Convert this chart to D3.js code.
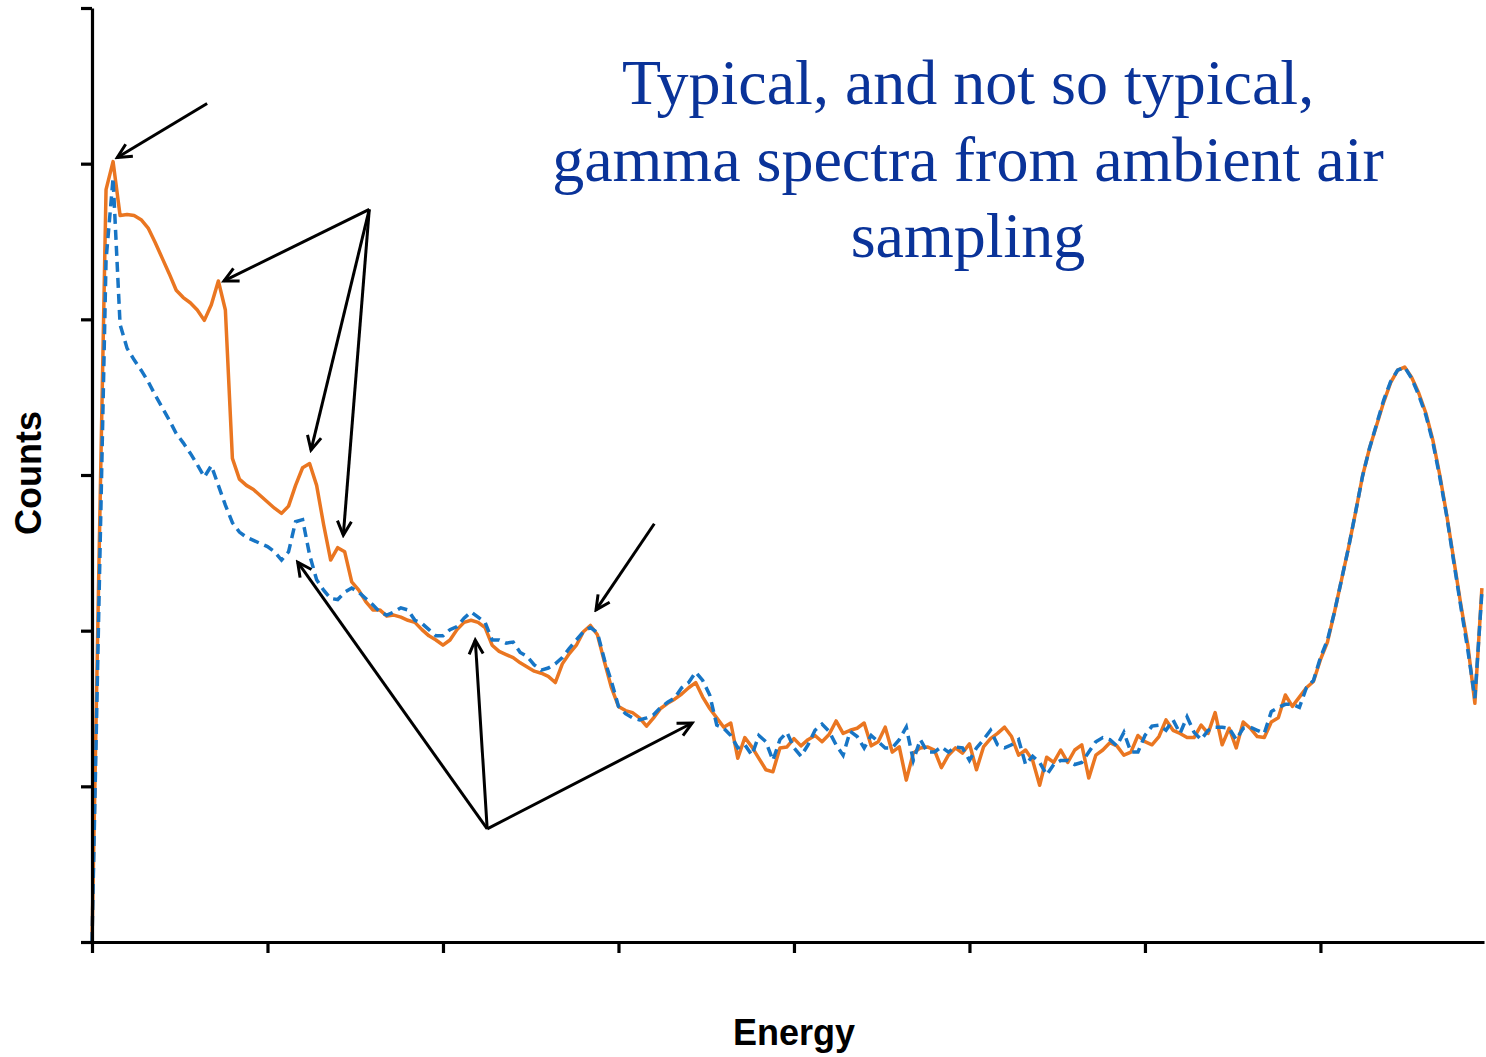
<!DOCTYPE html>
<html>
<head>
<meta charset="utf-8">
<script src="https://cdn.jsdelivr.net/npm/d3@7"></script>
<style>
  body { margin: 0; background: #fff; }
</style>
</head>
<body>
<svg id="drawing_region"></svg>
<script>
// spectra sampled every 10 channels, starting at channel 0
const channelStep = 10;

// "not so typical" sample (solid orange)
const orangeCounts = [
  0, 368, 725, 752, 700, 701, 700, 696, 688, 674,
  659, 644, 628, 621, 616, 609, 599, 614, 637, 609,
  466, 446, 440, 436, 430, 424, 418, 413, 420, 440,
  457, 461, 440, 402, 368, 380, 376, 347, 339, 328,
  320, 320, 314, 315, 313, 310, 308, 301, 295, 291,
  286, 291, 301, 308, 310, 308, 303, 286, 280, 277,
  274, 269, 265, 261, 259, 256, 250, 268, 278, 286,
  299, 305, 296, 270, 245, 227, 223, 221, 216, 208,
  216, 225, 230, 234, 239, 245, 250, 236, 225, 216,
  207, 211, 177, 197, 188, 177, 166, 164, 187, 188,
  196, 189, 195, 199, 193, 200, 213, 201, 204, 206,
  211, 189, 193, 207, 183, 188, 156, 182, 187, 188,
  185, 168, 180, 187, 182, 191, 166, 188, 196, 201,
  207, 198, 180, 185, 175, 151, 178, 173, 185, 173,
  185, 190, 158, 180, 185, 192, 189, 180, 183, 199,
  193, 190, 198, 214, 204, 201, 197, 197, 209, 201,
  221, 190, 206, 187, 212, 206, 198, 197, 212, 216,
  238, 227, 236, 245, 251, 272, 289, 318, 349, 380,
  414, 449, 476, 498, 520, 539, 551, 554, 544, 529,
  510, 484, 450, 411, 368, 325, 286, 230, 341
];

// typical sample (dashed blue)
const blueCounts = [
  0, 330, 657, 736, 595, 572, 561, 551, 540, 527,
  515, 503, 490, 481, 471, 460, 448, 459, 440, 421,
  404, 395, 390, 387, 384, 381, 376, 368, 376, 405,
  407, 373, 349, 339, 331, 330, 337, 341, 337, 331,
  325, 318, 315, 318, 322, 320, 310, 307, 301, 295,
  295, 301, 304, 312, 318, 313, 308, 291, 291, 288,
  289, 279, 275, 267, 262, 264, 268, 274, 283, 291,
  299, 303, 298, 272, 251, 227, 220, 216, 214, 216,
  219, 226, 231, 235, 245, 250, 260, 252, 238, 209,
  206, 199, 187, 190, 180, 199, 193, 175, 195, 202,
  187, 179, 190, 204, 210, 203, 190, 180, 203, 198,
  187, 199, 193, 187, 187, 195, 207, 175, 195, 183,
  183, 188, 183, 188, 187, 175, 187, 195, 204, 190,
  187, 190, 195, 171, 179, 173, 161, 171, 175, 175,
  171, 173, 183, 193, 197, 195, 189, 202, 183, 183,
  199, 208, 209, 204, 214, 201, 217, 202, 195, 204,
  207, 207, 206, 195, 206, 207, 204, 201, 222, 226,
  229, 229, 226, 245, 252, 274, 291, 318, 349, 380,
  414, 449, 476, 499, 522, 540, 551, 554, 543, 527,
  508, 482, 448, 410, 366, 323, 281, 235, 337
];

const xTicks = [0, 250, 500, 750, 1000, 1250, 1500, 1750];
const yTicks = [0, 150, 300, 450, 600, 750, 900];

const titleLines = [
  "Typical, and not so typical,",
  "gamma spectra from ambient air",
  "sampling"
];

// annotation arrows: [channel, counts] of tail and head
const arrowTails = [
  [164, 808], [395, 706], [395, 706], [395, 706],
  [801, 403], [563, 109], [563, 109], [563, 109]
];
const arrowHeads = [
  [36, 756], [188, 637], [312, 474], [358, 392],
  [718, 320], [293, 366], [546, 291], [855, 211]
];

const config = {
  parent: '#drawing_region',
  width: 1486,
  height: 1057,
  margin: {top: 8, left: 92, right: 2, bottom: 115},
  label: {x: 'Energy', y: 'Counts'}
};

class SpectrumChart {
  constructor(config) {
    this.config = config;
    this.init();
  }

  init() {
    let self = this;
    const m = self.config.margin;

    self.svg = d3.select(self.config.parent)
      .attr('width', self.config.width)
      .attr('height', self.config.height);

    self.inner_width = self.config.width - m.left - m.right;
    self.inner_height = self.config.height - m.top - m.bottom;

    self.chart = self.svg.append('g')
      .attr('transform', `translate(${m.left}, ${m.top})`);

    self.xscale = d3.scaleLinear()
      .domain([0, 1983])
      .range([0, self.inner_width]);

    self.yscale = d3.scaleLinear()
      .domain([0, 900])
      .range([self.inner_height, 0]);

    self.xaxis = d3.axisBottom(self.xscale)
      .tickValues(xTicks)
      .tickSize(11)
      .tickSizeOuter(0)
      .tickFormat('');

    self.yaxis = d3.axisLeft(self.yscale)
      .tickValues(yTicks)
      .tickSize(11)
      .tickSizeOuter(0)
      .tickFormat('');
  }

  render() {
    let self = this;

    const toPoints = arr => arr.map((c, i) => [i * channelStep, c]);
    const line = d3.line()
      .x(d => self.xscale(d[0]))
      .y(d => self.yscale(d[1]));

    self.chart.append('path')
      .datum(toPoints(orangeCounts))
      .attr('d', line)
      .attr('fill', 'none')
      .attr('stroke', '#ea7621')
      .attr('stroke-width', 3.5)
      .attr('stroke-linejoin', 'round');

    self.chart.append('path')
      .datum(toPoints(blueCounts))
      .attr('d', line)
      .attr('fill', 'none')
      .attr('stroke', '#1775c5')
      .attr('stroke-width', 3.5)
      .attr('stroke-dasharray', '10,6');

    const axisStyle = g => {
      g.select('.domain').attr('stroke', '#000').attr('stroke-width', 3.2);
      g.selectAll('.tick line').attr('stroke', '#000').attr('stroke-width', 3.2);
    };

    self.chart.append('g')
      .attr('transform', `translate(0, ${self.inner_height})`)
      .call(self.xaxis)
      .call(axisStyle);

    self.chart.append('g')
      .call(self.yaxis)
      .call(axisStyle);

    // arrow heads
    self.svg.append('defs').append('marker')
      .attr('id', 'head')
      .attr('viewBox', '0 0 20 20')
      .attr('refX', 17)
      .attr('refY', 10)
      .attr('markerWidth', 20)
      .attr('markerHeight', 20)
      .attr('markerUnits', 'userSpaceOnUse')
      .attr('orient', 'auto')
      .append('path')
      .attr('d', 'M3,3 L17,10 L3,17')
      .attr('fill', 'none')
      .attr('stroke', '#000')
      .attr('stroke-width', 3);

    self.chart.selectAll('.arrow')
      .data(arrowTails.map((t, i) => [t, arrowHeads[i]]))
      .join('line')
      .attr('class', 'arrow')
      .attr('x1', d => self.xscale(d[0][0]))
      .attr('y1', d => self.yscale(d[0][1]))
      .attr('x2', d => self.xscale(d[1][0]))
      .attr('y2', d => self.yscale(d[1][1]))
      .attr('stroke', '#000')
      .attr('stroke-width', 3)
      .attr('marker-end', 'url(#head)');

    // title block
    self.svg.append('text')
      .attr('text-anchor', 'middle')
      .attr('font-family', '"Liberation Serif", "Times New Roman", serif')
      .attr('font-size', 64)
      .attr('fill', '#0a3399')
      .selectAll('tspan')
      .data(titleLines)
      .join('tspan')
      .attr('x', 968)
      .attr('y', (d, i) => 104 + i * 76.5)
      .text(d => d);

    // axis labels
    self.svg.append('text')
      .attr('text-anchor', 'middle')
      .attr('x', 794)
      .attr('y', 1045)
      .attr('font-family', '"Liberation Sans", Arial, sans-serif')
      .attr('font-size', 36)
      .attr('font-weight', 'bold')
      .text(self.config.label.x);

    self.svg.append('text')
      .attr('text-anchor', 'middle')
      .attr('transform', 'rotate(-90)')
      .attr('x', -473)
      .attr('y', 41)
      .attr('font-family', '"Liberation Sans", Arial, sans-serif')
      .attr('font-size', 36)
      .attr('font-weight', 'bold')
      .text(self.config.label.y);
  }
}

const chart = new SpectrumChart(config);
chart.render();
</script>
</body>
</html>
